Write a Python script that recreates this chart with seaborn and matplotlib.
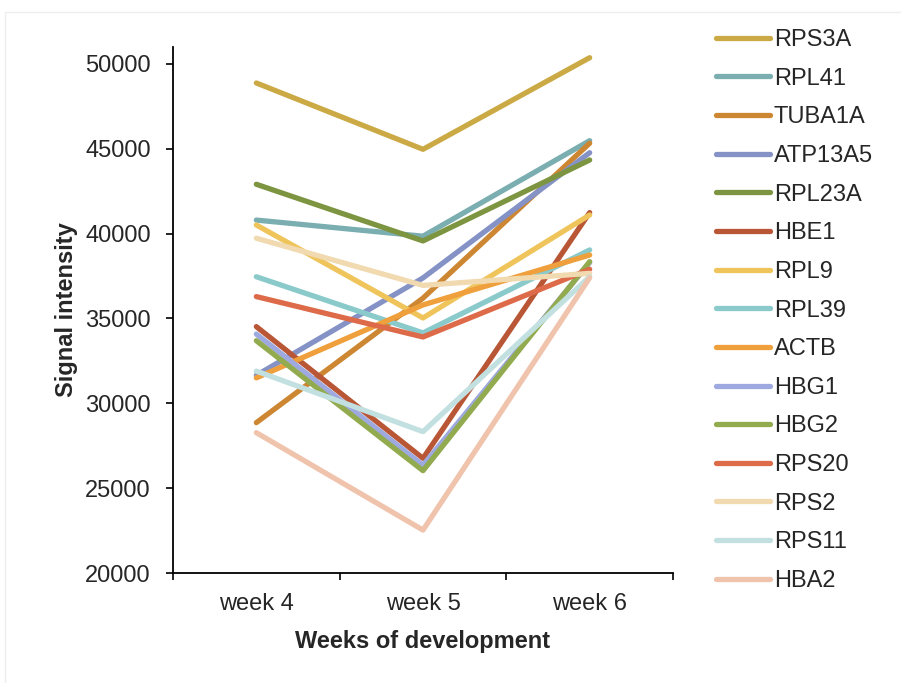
import matplotlib
matplotlib.use("Agg")
import matplotlib.pyplot as plt
import matplotlib.patches as patches
import seaborn as sns
import pandas as pd

weeks = ["week 4", "week 5", "week 6"]
genes = ["RPS3A", "RPL41", "TUBA1A", "ATP13A5", "RPL23A", "HBE1", "RPL9", "RPL39",
         "ACTB", "HBG1", "HBG2", "RPS20", "RPS2", "RPS11", "HBA2"]
values = {
    "RPS3A":   [48880, 44970, 50370],
    "RPL41":   [40800, 39850, 45480],
    "TUBA1A":  [28860, 36200, 45330],
    "ATP13A5": [31650, 37390, 44770],
    "RPL23A":  [42910, 39570, 44340],
    "HBE1":    [34520, 26760, 41240],
    "RPL9":    [40510, 35030, 41100],
    "RPL39":   [37460, 34150, 39040],
    "ACTB":    [31500, 35800, 38740],
    "HBG1":    [34080, 26350, 38300],
    "HBG2":    [33690, 26030, 38350],
    "RPS20":   [36290, 33910, 37900],
    "RPS2":    [39730, 36950, 37660],
    "RPS11":   [31900, 28330, 37460],
    "HBA2":    [28270, 22530, 37400],
}
colors = ["#CBAA46", "#7AAEB0", "#CD8632", "#8592C6", "#7D9440", "#B95635", "#EFC45A",
          "#8ACACB", "#EF9F3B", "#9DA9DF", "#93AB4F", "#DD6A48", "#F1D9B0", "#C3E0E1",
          "#F0C3AC"]
yticks = [20000, 25000, 30000, 35000, 40000, 45000, 50000]

rows = []
for g in genes:
    for w, v in zip(weeks, values[g]):
        rows.append({"Week": w, "Signal": v, "Gene": g})
df = pd.DataFrame(rows)

sns.set_theme(style="ticks")
plt.rcParams["font.family"] = ["Liberation Sans", "DejaVu Sans"]

fig = plt.figure(figsize=(9.01, 6.83), dpi=100)
ax = fig.add_axes([173/901, 1 - 573/683, 500/901, 526/683])

sns.lineplot(data=df, x="Week", y="Signal", hue="Gene", hue_order=genes,
             palette=dict(zip(genes, colors)), sort=False, linewidth=3.8,
             solid_capstyle="round", ax=ax, legend=True)

ax.set_xlim(-0.5, 2.5)
ax.set_ylim(20000, 51000)
ax.set_yticks(yticks)
ax.set_yticklabels([str(t) for t in yticks], fontsize=17)
ax.set_xticks([0, 1, 2])
ax.set_xticklabels(weeks, fontsize=17)
ax.set_xticks([-0.5, 0.5, 1.5, 2.5], minor=True)
ax.tick_params(axis="x", which="major", length=0, pad=14.5)
ax.tick_params(axis="x", which="minor", length=5, width=1.2, direction="out", color="black")
ax.tick_params(axis="y", length=5, width=1.2, direction="out", color="black", pad=11)
for s in ["top", "right"]:
    ax.spines[s].set_visible(False)
for s in ["left", "bottom"]:
    ax.spines[s].set_linewidth(1.3)
    ax.spines[s].set_color("black")

ax.set_xlabel("Weeks of development", fontsize=17, fontweight="bold", labelpad=11)
ax.set_ylabel("Signal intensity", fontsize=17, fontweight="bold", labelpad=5)

handles, labels = ax.get_legend_handles_labels()
ax.legend(handles, labels, loc="upper left", bbox_to_anchor=(716/901, 1 - 29/683),
          bbox_transform=fig.transFigure, frameon=False, fontsize=17,
          handlelength=2.3, handletextpad=0.15, labelspacing=0.705,
          borderpad=0, borderaxespad=0)

fig.patches.append(patches.Rectangle((5/901, -0.1), 2, 1.1 - 12/683, fill=False,
                                     edgecolor="#EEEEEE", linewidth=1,
                                     transform=fig.transFigure, figure=fig))

fig.savefig("out.png", dpi=100)
